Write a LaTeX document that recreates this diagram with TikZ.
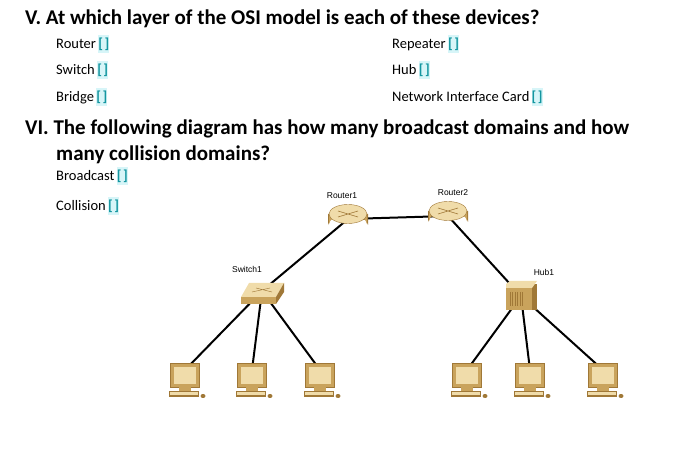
\documentclass[tikz,border=0pt]{standalone}
\usepackage{fontspec}
\setmainfont{Carlito}
\newfontfamily\lab{Liberation Sans}
\definecolor{gold}{RGB}{201,163,92}
\definecolor{goldl}{RGB}{240,220,170}
\definecolor{goldd}{RGB}{160,120,55}
\definecolor{tl}{RGB}{20,150,160}
\definecolor{tf}{RGB}{215,245,248}
\newcommand{\bk}{\,\colorbox{tf}{\kern-3pt\color{tl}\bfseries[\kern1.5pt]\kern-3pt}}
\begin{document}
\begin{tikzpicture}[x=1pt,y=-1pt,
  txt/.style={anchor=west,inner sep=0pt,font=\fontsize{14.5}{16}\selectfont},
  head/.style={anchor=west,inner sep=0pt,font=\fontsize{21}{24}\selectfont\bfseries},
  dlab/.style={font=\lab\fontsize{8.5}{9}\selectfont,inner sep=1pt},
  link/.style={line width=2pt},
  pc/.pic={
    \fill[goldd] (-15,-13) rectangle (15,12);
    \fill[gold] (-14,-12) rectangle (14,11);
    \fill[goldl] (-11,-9) rectangle (11,8);
    \fill[gold] (-6,11) rectangle (6,15);
    \fill[goldd] (-16,15) rectangle (14,21);
    \fill[goldl] (-15,16) rectangle (13,19);
    \fill[goldd] (18,20) ellipse (2.5 and 2);
  }]
\useasboundingbox (0,0) rectangle (694,470);
\node[head] at (25,19) {V. At which layer of the OSI model is each of these devices?};
\node[txt] at (56,44) {Router\bk};
\node[txt] at (56,70) {Switch\bk};
\node[txt] at (56,97) {Bridge\bk};
\node[txt] at (392,44) {Repeater\bk};
\node[txt] at (392,70) {Hub\bk};
\node[txt] at (392,97) {Network Interface Card\bk};
\node[head] at (25,129) {VI. The following diagram has how many broadcast domains and how};
\node[head] at (56,155) {many collision domains?};
\node[txt] at (56,176) {Broadcast\bk};
\node[txt] at (56,206) {Collision\bk};
\node[dlab] at (342,196) {Router1};
\node[dlab] at (453,193) {Router2};
\node[dlab] at (247,269) {Switch1};
\node[dlab] at (544,272) {Hub1};
\coordinate (r1) at (348,219);
\coordinate (r2) at (448,216);
\coordinate (sw) at (262,291);
\coordinate (hub) at (521,296);
\foreach \n/\x in {p1/185,p2/252,p3/320,p4/467,p5/530,p6/603}{\coordinate (\n) at (\x,370);}
% links
\draw[link] (r1) -- (r2);
\draw[link] (r1) -- (sw);
\draw[link] (r2) -- (hub);
\foreach \p in {p1,p2,p3}{\draw[link] (sw) -- (\p);}
\foreach \p in {p4,p5,p6}{\draw[link] (hub) -- (\p);}
% routers
\foreach \x/\y in {348/214,448/211}{
  \fill[goldd] (\x-20,\y) -- (\x-20,\y+11) arc[start angle=180,end angle=360,x radius=20,y radius=10] -- (\x+20,\y) -- cycle;
  \fill[gold] (\x-19,\y) -- (\x-19,\y+10) arc[start angle=180,end angle=360,x radius=19,y radius=9.5] -- (\x+19,\y) -- cycle;
  \fill[goldl,draw=goldd,line width=0.4pt] (\x,\y) ellipse (19 and 9.5);
  \draw[goldd,line width=0.6pt] (\x-10,\y-3)--(\x+10,\y+3) (\x-10,\y+3)--(\x+10,\y-3);
}
% switch
\fill[gold] (241,297) rectangle (276,304);
\fill[goldl] (241,297) -- (249,283) -- (284,283) -- (276,297) -- cycle;
\fill[goldd] (276,304) -- (284,292) -- (284,283) -- (276,297) -- cycle;
\draw[goldd,line width=0.4pt] (252,292) -- (270,288) (256,288)--(272,292);
% hub
\fill[goldd] (506,284) rectangle (537,310);
\fill[gold] (506,288) rectangle (532,310);
\fill[goldl] (506,284) -- (510,281) -- (537,281) -- (532,288) -- (506,288) -- cycle;
\foreach \i in {0,...,5}{\draw[goldd,line width=0.5pt] (510+\i*2.5,292) -- (510+\i*2.5,306);}
% pcs
\foreach \x in {185,252,320,467,530,603}{\pic at (\x,376) {pc};}
\end{tikzpicture}
\end{document}
